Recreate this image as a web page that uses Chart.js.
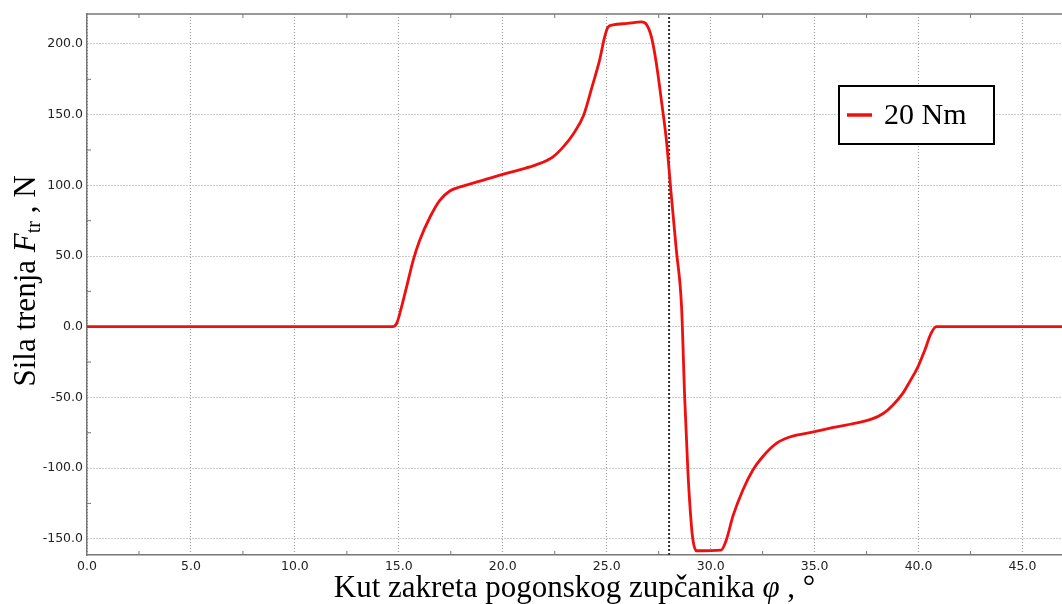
<!DOCTYPE html>
<html>
<head>
<meta charset="utf-8">
<script src="https://cdn.jsdelivr.net/npm/chart.js@4.4.0/dist/chart.umd.min.js"></script>
<style>
    html, body { margin: 0; padding: 0; background: #fff; }
    #wrap { width: 1062px; height: 604px; position: relative; }
</style>
</head>
<body>
<div id="wrap"><canvas id="frictionChart"></canvas></div>
<script>
// kut zakreta (°) i sila trenja (N), očitano s grafa
const kut = [0, 14.7, 14.9, 15.13, 15.37, 15.69, 16.0, 16.5, 16.97, 17.45, 17.93, 18.9, 20.0, 20.8, 21.6,
    22.4, 22.9, 23.4, 23.9, 24.3, 24.66, 24.9, 25.06, 25.3, 26.0, 26.67, 26.9, 27.15, 27.39, 27.63, 27.87,
    28.1, 28.35, 28.6, 28.75, 28.91, 29.07, 29.15, 29.31, 30.5, 30.75, 31.07, 31.55, 32.03, 32.5, 33.16,
    33.8, 35.0, 35.7, 36.5, 37.8, 38.3, 38.76, 39.24, 39.57, 39.97, 40.3, 40.6, 40.85, 46.9];
const sila = [0, 0, 2.5, 14, 28, 47, 61, 77.6, 89.4, 96, 98.8, 103, 107.8, 111, 114.5,
    120, 127, 136.5, 150, 170, 188.7, 205, 212, 213.5, 214.6, 215.6, 214, 205, 186, 160, 132,
    94, 54, 14, -50, -104, -140, -151, -158.5, -158, -151, -134, -115.5, -101.4, -92, -82.5,
    -78, -74.3, -72, -69.6, -65, -61.4, -55.5, -47.2, -39, -28.4, -16.6, -4.8, 0, 0];

const nazivSerije = '20 Nm';
const granicaKut = 28.0;          // okomita točkasta linija

const xTicks = [0, 5, 10, 15, 20, 25, 30, 35, 40, 45];
const yTicks = [-150, -100, -50, 0, 50, 100, 150, 200];
const xMin = 0, xMax = 46.9;
const yMin = -161.5, yMax = 221.2;

const serif = '"Liberation Serif", "Times New Roman", serif';

// crta komad po komad teksta s različitim fontovima
function drawRich(ctx, parts, cx, cy) {
    let total = 0;
    parts.forEach(p => { ctx.font = p.font; total += ctx.measureText(p.text).width; });
    let pos = cx - total / 2;
    parts.forEach(p => {
        ctx.font = p.font;
        ctx.fillText(p.text, pos, cy + (p.dy || 0));
        pos += ctx.measureText(p.text).width;
    });
}

// naslovi osi, sporedne crtice, gornji rub i legenda
const dodaci = {
    id: 'dodaci',
    afterDraw(chart) {
        const { ctx, chartArea: a, scales: { x, y } } = chart;
        ctx.save();

        ctx.strokeStyle = '#777';
        ctx.lineWidth = 1.5;
        ctx.beginPath();
        ctx.moveTo(a.left, a.top);
        ctx.lineTo(a.right, a.top);
        ctx.stroke();

        ctx.lineWidth = 1;
        ctx.beginPath();
        xTicks.forEach(v => {
            const m = v + 2.5;
            if (m > xMax) return;
            const px = x.getPixelForValue(m);
            ctx.moveTo(px, a.bottom); ctx.lineTo(px, a.bottom - 4);
            ctx.moveTo(px, a.top); ctx.lineTo(px, a.top + 4);
        });
        yTicks.forEach(v => {
            const m = v + 25;
            if (m > yMax) return;
            const py = y.getPixelForValue(m);
            ctx.moveTo(a.left, py); ctx.lineTo(a.left + 4, py);
        });
        ctx.stroke();

        // naslov x osi
        ctx.fillStyle = '#000';
        ctx.textBaseline = 'alphabetic';
        ctx.textAlign = 'left';
        drawRich(ctx, [
            { text: 'Kut zakreta pogonskog zupčanika ', font: '31px ' + serif },
            { text: 'φ', font: 'italic 31px ' + serif },
            { text: ' , °', font: '31px ' + serif }
        ], (a.left + a.right) / 2, 597);

        // naslov y osi
        ctx.save();
        ctx.translate(35, 281);
        ctx.rotate(-Math.PI / 2);
        drawRich(ctx, [
            { text: 'Sila trenja ', font: '31px ' + serif },
            { text: 'F', font: 'italic 31px ' + serif },
            { text: 'tr', font: '20px ' + serif, dy: 5 },
            { text: ' , N', font: '31px ' + serif }
        ], 0, 0);
        ctx.restore();

        // legenda
        const lx = a.left + 752, ly = a.top + 72, lw = 155, lh = 58;
        ctx.fillStyle = '#fff';
        ctx.fillRect(lx, ly, lw, lh);
        ctx.strokeStyle = '#000';
        ctx.lineWidth = 2;
        ctx.strokeRect(lx, ly, lw, lh);
        ctx.strokeStyle = chart.data.datasets[0].borderColor;
        ctx.lineWidth = 3.5;
        ctx.beginPath();
        ctx.moveTo(lx + 8, ly + lh / 2);
        ctx.lineTo(lx + 33, ly + lh / 2);
        ctx.stroke();
        ctx.fillStyle = '#000';
        ctx.font = '30px ' + serif;
        ctx.textBaseline = 'middle';
        ctx.fillText(chart.data.datasets[0].label, lx + 45, ly + lh / 2 + 1);

        ctx.restore();
    }
};

const tickFont = { family: '"DejaVu Sans", Verdana, sans-serif', size: 12.5 };

new Chart(document.getElementById('frictionChart'), {
    type: 'scatter',
    data: {
        datasets: [
            {
                label: nazivSerije,
                data: kut.map((v, i) => ({ x: v, y: sila[i] })),
                showLine: true,
                borderColor: '#f00f0f',
                borderWidth: 2.8,
                pointRadius: 0,
                cubicInterpolationMode: 'monotone'
            },
            {
                label: 'granica',
                data: [{ x: granicaKut, y: yMin }, { x: granicaKut, y: yMax }],
                showLine: true,
                borderColor: '#333',
                borderWidth: 2,
                borderDash: [2, 2],
                pointRadius: 0
            }
        ]
    },
    options: {
        responsive: true,
        maintainAspectRatio: false,
        animation: false,
        layout: { padding: { top: 14, left: 0, right: 0, bottom: 0 } },
        plugins: {
            legend: { display: false },
            tooltip: { enabled: false }
        },
        scales: {
            x: {
                type: 'linear',
                min: xMin,
                max: xMax,
                afterBuildTicks: s => { s.ticks = xTicks.map(v => ({ value: v })); },
                afterFit: s => { s.height = 49; },
                grid: { color: '#999', drawTicks: false },
                border: { color: '#777', width: 1.5, dash: [1, 2] },
                ticks: {
                    font: tickFont,
                    color: '#222',
                    padding: 4,
                    maxRotation: 0,
                    callback: v => v.toFixed(1)
                }
            },
            y: {
                type: 'linear',
                min: yMin,
                max: yMax,
                afterBuildTicks: s => { s.ticks = yTicks.map(v => ({ value: v })); },
                afterFit: s => { s.width = 87; },
                grid: { color: '#999', drawTicks: false },
                border: { color: '#777', width: 1.5, dash: [1, 2] },
                ticks: {
                    font: tickFont,
                    color: '#222',
                    padding: 4,
                    callback: v => v.toFixed(1)
                }
            }
        }
    },
    plugins: [dodaci]
});
</script>
</body>
</html>
